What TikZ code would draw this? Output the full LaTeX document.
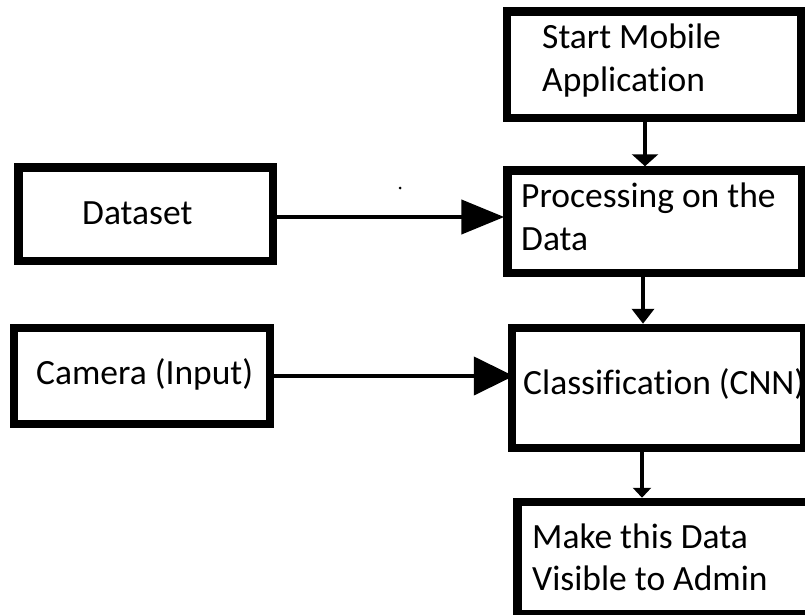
\documentclass[tikz,border=0pt]{standalone}
\usepackage{fontspec}
\setmainfont{Carlito}[Ligatures={NoCommon,NoRare}]
\usetikzlibrary{arrows.meta}
\tikzset{
  box/.style={draw=black, line width=8.5pt, fill=none, rectangle, inner sep=0pt},
  lbl/.style={anchor=base west, inner sep=0pt, font=\fontsize{35.5}{43}\selectfont, text=black},
  conn/.style={draw=black, line width=4.5pt},
}
\begin{document}
\begin{tikzpicture}[x=1pt, y=-1pt]
\useasboundingbox (0,0) rectangle (805,615);
\clip (0,0) rectangle (805,615);
\fill[white] (0,0) rectangle (805,615);

% boxes
\node[box, minimum width=294pt,   minimum height=106.5pt] (start) at (654,64.75) {};
\node[box, minimum width=294.5pt, minimum height=102.5pt] (proc)  at (654.75,221.75) {};
\node[box, minimum width=254.5pt, minimum height=93.5pt]  (data)  at (145.75,214.25) {};
\node[box, minimum width=256pt,   minimum height=96pt]    (cam)   at (142,376) {};
\node[box, minimum width=292pt,   minimum height=120pt]   (cls)   at (658,388) {};
\node[box, minimum width=294.5pt, minimum height=112pt]   (make)  at (664.75,558) {};

% texts
\node[lbl] (startA) at (542,49)  {Start Mobile};
\node[lbl] (startB) at (542,92)  {Application};
\node[lbl] (procA)  at (521,207) {Processing on the};
\node[lbl] (procB)  at (521,250) {Data};
\node[lbl] (dataT)  at (82,224)  {Dataset};
\node[lbl] (camT)   at (36,384)  {Camera (Input)};
\node[lbl] (clsT)   at (523,394) {Classification (CNN)};
\node[lbl] (makeA)  at (532,548) {Make this Data};
\node[lbl] (makeB)  at (532,590) {Visible to Admin};

% connector guide coordinates
\coordinate (vx1) at (645,0);
\coordinate (vx2) at (643,0);
\coordinate (vx3) at (642,0);
\coordinate (hy1) at (0,217);
\coordinate (hy2) at (0,376);

% vertical connectors
\draw[conn, -{Triangle[length=12pt,width=26pt]}] (start.south -| vx1) -- (proc.north -| vx1);
\draw[conn, -{Triangle[length=15pt,width=22pt]}] (proc.south -| vx2) -- (cls.north -| vx2);
\draw[conn, -{Triangle[length=10pt,width=18pt]}] (cls.south -| vx3) -- (make.north -| vx3);

% horizontal connectors
\draw[conn, -{Triangle[length=43pt,width=34pt]}, shorten >=-1pt] (data.east |- hy1) -- (proc.west |- hy1);
\draw[conn, -{Triangle[length=40pt,width=38pt]}, shorten >=-6pt] (cam.east |- hy2) -- (cls.west |- hy2);

% stray dot
\fill[black] (400,188) circle (1.5pt);
\end{tikzpicture}
\end{document}
